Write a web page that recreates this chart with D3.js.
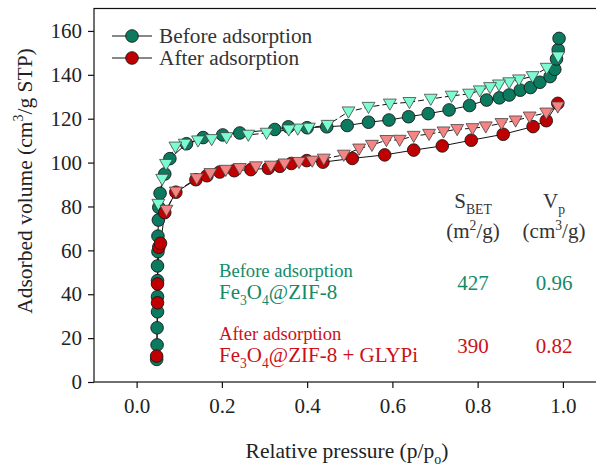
<!DOCTYPE html>
<html>
<head>
<meta charset="utf-8">
<script src="https://cdn.jsdelivr.net/npm/d3@7"></script>
<style>
  body { margin: 0; background: #fff; }
  svg { display: block; }
  text { font-family: "Liberation Serif", "Times New Roman", serif; }
</style>
</head>
<body>
<svg id="mainsvg" width="596" height="467"></svg>
<script>
// Before adsorption, adsorption branch (circles, solid line)
const beforeAdsX = [0.047,0.048,0.048,0.049,0.049,0.049,0.049,0.050,0.050,0.051,0.052,0.055,0.066,0.078,0.117,0.156,0.202,0.242,0.324,0.356,0.400,0.446,0.494,0.544,0.592,0.638,0.684,0.733,0.781,0.821,0.851,0.874,0.900,0.924,0.946,0.970,0.981,0.985,0.989,0.991]
const beforeAdsY = [10.3,16.9,24.7,32.0,38.9,46.2,52.9,59.4,66.5,73.8,79.6,86.0,94.8,101.8,108.6,111.4,112.6,113.5,115.1,116.3,115.9,116.3,116.9,118.4,119.4,120.9,122.3,124.0,126.0,128.5,129.5,130.8,133.0,134.2,136.6,139.2,142.5,147.2,151.5,156.6]
// Before adsorption, desorption branch (triangles, dashed line)
const beforeDesX = [0.989,0.962,0.929,0.897,0.874,0.850,0.829,0.805,0.780,0.739,0.690,0.640,0.594,0.544,0.497,0.448,0.404,0.378,0.357,0.305,0.262,0.211,0.176,0.144,0.113,0.091,0.069,0.060,0.051]
const beforeDesY = [148.3,143.1,139.3,137.8,136.5,135.5,134.3,132.8,131.3,130.4,129.0,127.5,126.8,125.3,123.2,117.1,115.8,115.4,115.0,113.5,112.6,111.5,110.6,110.0,108.5,107.2,99.3,92.5,81.1]
// After adsorption, adsorption branch
const afterAdsX = [0.047,0.049,0.049,0.052,0.056,0.066,0.092,0.139,0.165,0.195,0.229,0.268,0.309,0.336,0.363,0.399,0.437,0.506,0.582,0.650,0.717,0.785,0.860,0.930,0.961,0.988]
const afterAdsY = [11.8,36.1,44.7,61.4,63.2,77.2,86.5,92.2,94.0,95.7,96.3,96.8,97.4,98.3,99.6,100.9,100.2,101.9,103.5,105.7,107.6,110.2,112.9,116.4,119.1,127.0]
// After adsorption, desorption branch
const afterDesX = [0.988,0.961,0.922,0.889,0.856,0.819,0.788,0.752,0.720,0.686,0.650,0.617,0.586,0.552,0.522,0.486,0.439,0.412,0.381,0.347,0.315,0.280,0.242,0.209,0.173,0.141,0.092,0.070]
const afterDesY = [125.5,122.7,120.9,119.1,117.9,116.4,115.6,115.2,114.1,113.0,112.1,110.3,110.2,108.0,106.3,103.5,101.7,100.8,100.2,99.5,98.5,98.2,97.4,96.6,95.1,92.8,86.7,78.4]

const xTicks = [0, 0.2, 0.4, 0.6, 0.8, 1.0]
const yTicks = [0, 20, 40, 60, 80, 100, 120, 140, 160]
const legendNames = ['Before adsorption', 'After adsorption']
const sBet = [427, 390]
const vP = ['0.96', '0.82']

const green = '#0b7a5e', greenTri = '#7dfcd2', greenText = '#138a68'
const red = '#c00000', redTri = '#f58585', redText = '#cc1018'

const svg = d3.select('#mainsvg')
const x = d3.scaleLinear().domain([-0.1, 1.08]).range([94, 597])
const y = d3.scaleLinear().domain([0, 170]).range([382, 9])

// helper: text with sub / superscripts
function richText(g, px, py, parts, size, color, anchor) {
    const t = g.append('text').attr('x', px).attr('y', py)
        .attr('font-size', size).attr('fill', color)
        .attr('text-anchor', anchor || 'start')
    let cur = 0
    parts.forEach(p => {
        const s = typeof p === 'string' ? p : p[0]
        const k = typeof p === 'string' ? null : p[1]
        const target = k === 'sub' ? size * 0.28 : k === 'sup' ? -size * 0.4 : 0
        t.append('tspan').attr('dy', target - cur)
            .attr('font-size', k ? size * 0.65 : size).text(s)
        cur = target
    })
    return t
}

// frame
svg.append('rect').attr('x', 94).attr('y', 8.5).attr('width', 510).attr('height', 373.5)
    .attr('fill', 'none').attr('stroke', '#111').attr('stroke-width', 1.2)

// axes
const xAxis = svg.append('g').attr('transform', 'translate(0,382)')
    .call(d3.axisBottom(x).tickValues(xTicks).tickFormat(d3.format('.1f')).tickSize(6).tickPadding(6))
const yAxis = svg.append('g').attr('transform', 'translate(94,0)')
    .call(d3.axisLeft(y).tickValues(yTicks).tickSize(6).tickPadding(6))
;[xAxis, yAxis].forEach(a => {
    a.select('.domain').remove()
    a.selectAll('line').attr('stroke', '#111').attr('stroke-width', 1.2)
    a.selectAll('text').attr('font-family', '"Liberation Serif", serif').attr('font-size', 21).attr('fill', '#222')
})
xAxis.selectAll('text').attr('dy', '0.9em')

// axis titles
richText(svg, 347, 458, ['Relative pressure (p/p', ['o', 'sub'], ')'], 21.5, '#222', 'middle')
const yt = svg.append('g').attr('transform', 'translate(32,181) rotate(-90)')
richText(yt, 0, 0, ['Adsorbed volume (cm', ['3', 'sup'], '/g STP)'], 21.5, '#222', 'middle')

// series
const series = [
    {xs: beforeAdsX, ys: beforeAdsY, shape: 'circle', fill: green, dash: null},
    {xs: beforeDesX, ys: beforeDesY, shape: 'tri', fill: greenTri, dash: '6,3'},
    {xs: afterAdsX, ys: afterAdsY, shape: 'circle', fill: red, dash: null},
    {xs: afterDesX, ys: afterDesY, shape: 'tri', fill: redTri, dash: '6,3'}
]
const line = d3.line().x(d => x(d[0])).y(d => y(d[1]))
const tri = d3.symbol().type(d3.symbolTriangle).size(72)

series.forEach(s => {
    const pts = s.xs.map((v, i) => [v, s.ys[i]])
    svg.append('path').datum(pts).attr('d', line)
        .attr('fill', 'none').attr('stroke', '#111').attr('stroke-width', 1)
        .attr('stroke-dasharray', s.dash)
})
series.forEach(s => {
    const pts = s.xs.map((v, i) => [v, s.ys[i]])
    if (s.shape === 'circle') {
        svg.append('g').selectAll('circle').data(pts).join('circle')
            .attr('cx', d => x(d[0])).attr('cy', d => y(d[1])).attr('r', 6.3)
            .attr('fill', s.fill).attr('stroke', '#1a1a1a').attr('stroke-width', 0.9)
    } else {
        svg.append('g').selectAll('path').data(pts).join('path')
            .attr('d', tri)
            .attr('transform', d => `translate(${x(d[0])},${y(d[1]) - 1}) rotate(180)`)
            .attr('fill', s.fill).attr('stroke', '#444').attr('stroke-width', 0.8)
    }
})

// legend
const legendColors = [green, red]
legendNames.forEach((n, i) => {
    const ly = 36 + i * 22
    svg.append('line').attr('x1', 112).attr('x2', 152).attr('y1', ly).attr('y2', ly)
        .attr('stroke', '#111').attr('stroke-width', 1)
    svg.append('circle').attr('cx', 132).attr('cy', ly).attr('r', 6.3)
        .attr('fill', legendColors[i]).attr('stroke', '#1a1a1a').attr('stroke-width', 0.9)
    svg.append('text').attr('x', 159).attr('y', ly + 7).attr('font-size', 21.3)
        .attr('fill', '#333').text(n)
})

// BET table
richText(svg, 473, 208, ['S', ['BET', 'sub']], 21, '#333', 'middle')
richText(svg, 473, 238, ['(m', ['2', 'sup'], '/g)'], 21, '#333', 'middle')
richText(svg, 554, 208, ['V', ['p', 'sub']], 21, '#333', 'middle')
richText(svg, 554, 238, ['(cm', ['3', 'sup'], '/g)'], 21, '#333', 'middle')

svg.append('text').attr('x', 219).attr('y', 277).attr('font-size', 18.6).attr('fill', greenText).text(legendNames[0])
richText(svg, 219, 299, ['Fe', ['3', 'sub'], 'O', ['4', 'sub'], '@ZIF-8'], 21, greenText)
svg.append('text').attr('x', 219).attr('y', 340).attr('font-size', 18.6).attr('fill', redText).text(legendNames[1])
richText(svg, 219, 362, ['Fe', ['3', 'sub'], 'O', ['4', 'sub'], '@ZIF-8 + GLYPi'], 21, redText)

const rowColors = [greenText, redText]
const rowY = [290, 353]
sBet.forEach((v, i) => {
    svg.append('text').attr('x', 473).attr('y', rowY[i]).attr('font-size', 21)
        .attr('text-anchor', 'middle').attr('fill', rowColors[i]).text(v)
    svg.append('text').attr('x', 554).attr('y', rowY[i]).attr('font-size', 21)
        .attr('text-anchor', 'middle').attr('fill', rowColors[i]).text(vP[i])
})
</script>
</body>
</html>
